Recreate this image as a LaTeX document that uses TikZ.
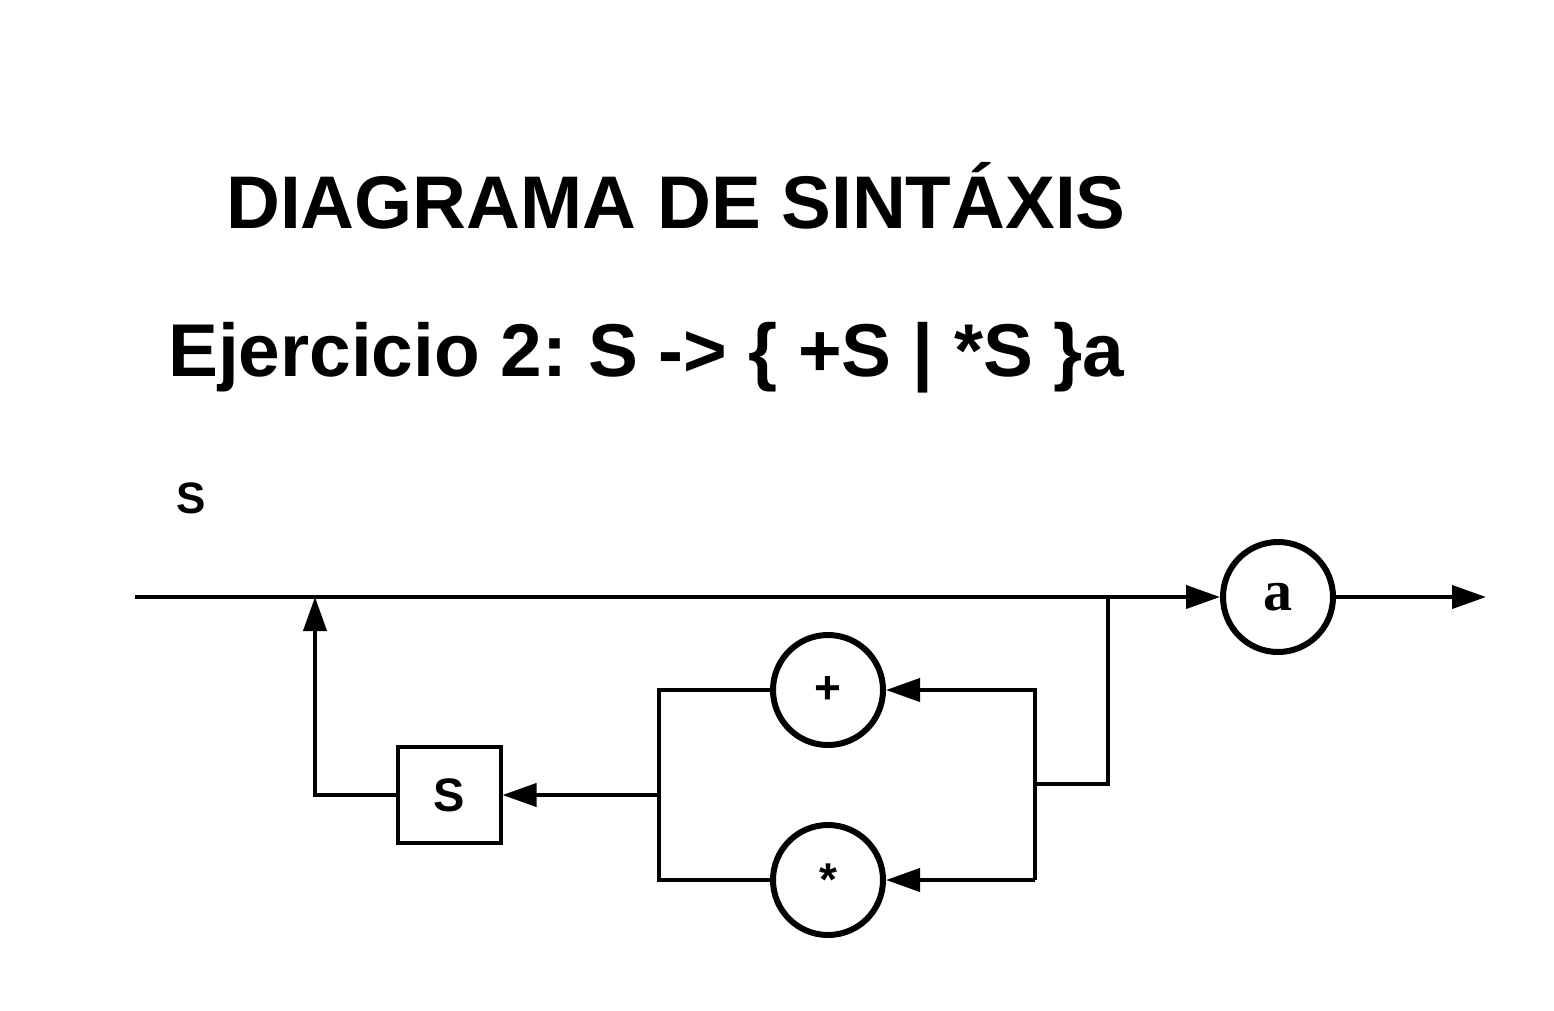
\documentclass[tikz,border=0pt]{standalone}
\usepackage{fontspec}
\setmainfont{Liberation Sans}
\newfontfamily\serifb{Liberation Serif}
\usetikzlibrary{arrows.meta}
\frenchspacing
\begin{document}
\begin{tikzpicture}[x=1pt,y=-1pt,
  line/.style={line width=4pt},
  arr/.style={line width=4pt,-{Triangle[length=34pt,width=23pt]}},
  term/.style={circle,draw,line width=6pt,minimum size=110pt,inner sep=0pt,font=\bfseries\fontsize{46}{46}\selectfont},
  nonterm/.style={rectangle,draw,line width=4pt,minimum width=103pt,minimum height=96pt,inner sep=0pt,font=\bfseries\fontsize{47}{47}\selectfont}]
\useasboundingbox (0,0) rectangle (1554,1011);
\node[anchor=base,font=\bfseries\fontsize{74.6}{74.6}\selectfont] (title) at (676,228) {DIAGRAMA DE SINTÁXIS};
\node[anchor=base west,inner sep=0pt,font=\bfseries\fontsize{74.8}{74.8}\selectfont] (sub) at (168,376) {Ejercicio 2: S -> \{ +S | *S \}a};
\node[anchor=base,font=\bfseries\fontsize{44}{44}\selectfont] (lbl) at (191,513) {S};

\node[term,font=\serifb\bfseries\fontsize{58}{58}\selectfont] (a) at (1278,597) {a};
\node[term] (plus) at (828,690) {+};
\node[term] (star) at (828,880) {*};
\node[nonterm] (S) at (449,795) {S};

\coordinate (in) at (135,597);
\coordinate (out) at (1486,597);
\coordinate (br) at (1108,597);
\coordinate (loop) at (315,597);
\coordinate (rv) at (1035,784);
\coordinate (lv) at (659,795);
\coordinate (rt) at (1035,690);
\coordinate (rb) at (1035,880);

\draw[arr] (in) -- (a);
\draw[arr] (a) -- (out);
\draw[line] (br) |- (rv);
\draw[arr] (rb) -- (rt) -- (plus);
\draw[arr] (rb) -- (star);
\draw[line,line join=miter] (plus) -| (lv) |- (star);
\draw[arr] (lv) -- (S);
\draw[arr] (S.west) -| (loop);
\end{tikzpicture}
\end{document}
